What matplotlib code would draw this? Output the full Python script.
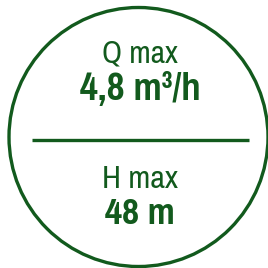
import matplotlib
matplotlib.use("Agg")
import matplotlib.pyplot as plt
from matplotlib.patches import Circle

labels = ["Q max", "H max"]
values = ["4,8 m³/h", "48 m"]
label_y = [54, 179]
value_y = [90, 213]

green = "#125a1d"
fig = plt.figure(figsize=(2.68, 2.68), dpi=100)
ax = fig.add_axes([0, 0, 1, 1])
ax.set_xlim(0, 268)
ax.set_ylim(268, 0)
ax.axis("off")

ax.add_patch(Circle((138.5, 137), 129.5, fill=False, edgecolor=green, linewidth=2.4))
ax.plot([32, 249], [140, 140], color=green, linewidth=2.4, solid_capstyle="butt")

fam = ["Pragati Narrow", "DejaVu Sans"]
texts = []
for lab, y in zip(labels, label_y):
    texts.append((ax.text(140, y, lab, ha="center", va="center", fontsize=20, color=green, family=fam), 76))
for val, y in zip(values, value_y):
    texts.append((ax.text(140, y, val, ha="center", va="center", fontsize=20, color=green, family=fam, fontweight="bold"), 121 if "h" in val else 70))

fig.canvas.draw()
r = fig.canvas.get_renderer()
for t, w in texts:
    cw = t.get_window_extent(r).width
    t.set_fontsize(20 * w / cw)

fig.savefig("out.png", dpi=100)
